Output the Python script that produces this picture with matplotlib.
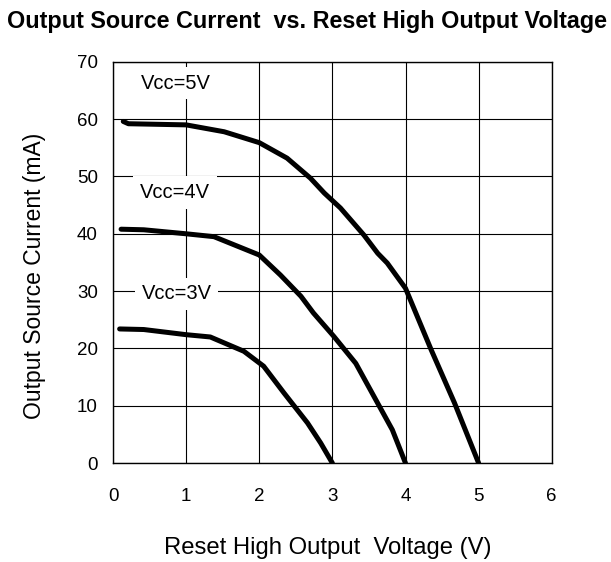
import matplotlib
matplotlib.use("Agg")
import matplotlib.pyplot as plt

plt.rcParams["font.family"] = ["Liberation Sans", "DejaVu Sans"]

# curves (V, mA)
v5 = [0.14, 0.21, 1.0, 1.52, 2.0, 2.38, 2.70, 2.89, 3.11, 3.43, 3.62, 3.75, 4.0, 4.35, 4.67, 5.0]
i5 = [59.6, 59.2, 59.0, 57.8, 55.9, 53.2, 49.7, 47.1, 44.5, 39.8, 36.6, 34.9, 30.5, 19.8, 10.5, 0.0]

v4 = [0.11, 0.42, 1.0, 1.38, 2.0, 2.29, 2.57, 2.74, 3.02, 3.32, 3.57, 3.82, 4.0]
i4 = [40.8, 40.7, 40.0, 39.5, 36.3, 32.8, 29.1, 26.2, 22.1, 17.4, 11.6, 5.8, 0.0]

v3 = [0.09, 0.42, 1.0, 1.33, 1.79, 2.06, 2.34, 2.66, 2.84, 3.0]
i3 = [23.4, 23.3, 22.4, 22.0, 19.5, 16.9, 12.2, 7.0, 3.5, 0.0]

labels = ["Vcc=5V", "Vcc=4V", "Vcc=3V"]
label_pos = [(0.86, 66.3), (0.85, 47.2), (0.87, 29.5)]

fig = plt.figure(figsize=(6.11, 5.62), dpi=100)
ax = fig.add_axes([0.185, 0.176, 0.718, 0.714])

for v, i in [(v5, i5), (v4, i4), (v3, i3)]:
    ax.plot(v, i, color="black", lw=3.6, solid_capstyle="round", zorder=3)

for txt, (x, y) in zip(labels, label_pos):
    ax.text(x, y, txt, ha="center", va="center", fontsize=14.5, zorder=4,
            bbox=dict(facecolor="white", edgecolor="none", pad=5))

ax.set_xlim(0, 6)
ax.set_ylim(0, 70)
ax.set_xticks(range(0, 7))
ax.set_yticks(range(0, 71, 10))
ax.grid(True, color="black", lw=0.8)
ax.tick_params(length=0, labelsize=13.5)
ax.tick_params(axis="x", pad=18)
ax.tick_params(axis="y", pad=11)
for s in ax.spines.values():
    s.set_linewidth(1.0)

fig.text(328 / 611, 1 - 548 / 562, "Reset High Output  Voltage (V)",
         ha="center", va="center", fontsize=17.2)
fig.text(35 / 611, 1 - 276 / 562, "Output Source Current (mA)",
         ha="center", va="center", rotation=90, fontsize=16.5)
fig.text(0.502, 0.961, "Output Source Current  vs. Reset High Output Voltage",
         ha="center", va="center", fontsize=16.8, fontweight="bold")

fig.savefig("out.png", dpi=100)
